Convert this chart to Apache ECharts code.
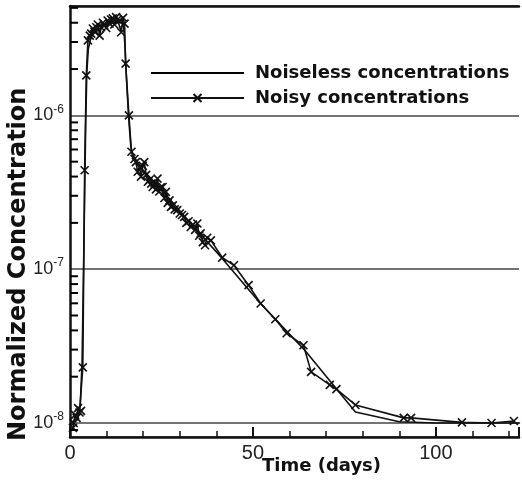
<!DOCTYPE html>
<html>
<head>
<meta charset="utf-8">
<script src="https://cdn.jsdelivr.net/npm/echarts@6/dist/echarts.min.js"></script>
<style>html,body{margin:0;padding:0;background:#fff}#c{width:522px;height:487px}</style>
</head>
<body>
<div id="c"></div>
<script>
// ---- data ----
const noiselessTimes = [0, 1, 2, 2.8, 3.3, 3.7, 4.0, 4.3, 4.6, 5.0, 5.5, 6, 7, 8, 9, 10, 11, 12, 13, 14, 14.6, 15.0, 15.4, 15.8, 16.2, 16.6, 17, 20, 25, 30, 35, 41, 52, 64, 78, 90, 100, 123];
const noiselessValues = [1.0e-8, 1.0e-8, 1.05e-8, 1.3e-8, 2.5e-8, 1e-7, 3e-7, 9e-7, 1.9e-6, 2.7e-6, 3.05e-6, 3.3e-6, 3.5e-6, 3.65e-6, 3.78e-6, 3.88e-6, 3.95e-6, 4.0e-6, 4.02e-6, 4.0e-6, 3.9e-6, 2.9e-6, 1.8e-6, 1.2e-6, 8.5e-7, 6.4e-7, 5.6e-7, 4.4e-7, 3.3e-7, 2.4e-7, 1.75e-7, 1.22e-7, 6.0e-8, 3.0e-8, 1.18e-8, 1.02e-8, 1.0e-8, 1.0e-8];

const noisyTimes = [0.8, 1.0, 1.4, 1.8, 2.2, 2.6, 3.0, 3.5, 4.0, 4.45, 4.9, 5.4, 5.8, 6.25, 6.7, 7.2, 7.6, 8.1, 8.5, 9.0, 9.4, 9.9, 10.3, 10.8, 11.2, 11.7, 12.1, 12.6, 13.0, 13.5, 14.0, 14.5, 14.9, 15.2, 16.1, 16.8,
  17.6, 18.0, 18.5, 19.0, 19.4, 19.9, 20.3, 20.8, 21.3, 21.7, 22.2, 22.6, 23.1, 23.5, 23.9, 24.4, 24.8, 25.3, 25.8, 26.2, 26.7, 27.2, 27.6, 28.1, 28.6, 29.3, 30.0, 30.6, 31.2, 31.8, 32.4, 33.0, 33.6, 34.2, 34.8, 35.3, 35.7, 36.3, 36.9, 37.5, 38.5,
  41.6, 44.8, 48.8, 52.1, 56.1, 59.2, 63.8, 65.9, 71.0, 72.8, 78.0, 91.2, 93.2, 107.1, 115.2, 121.3];
const noisyValues = [9.3e-9, 1.0e-8, 1.13e-8, 1.08e-8, 1.25e-8, 1.17e-8, 1.2e-8, 2.3e-8, 4.4e-7, 1.82e-6, 3.07e-6, 3.3e-6, 3.4e-6, 3.67e-6, 3.5e-6, 3.74e-6, 3.9e-6, 3.3e-6, 3.74e-6, 4.0e-6, 3.84e-6, 3.7e-6, 4.14e-6, 3.95e-6, 4.2e-6, 4.27e-6, 3.9e-6, 4.35e-6, 4.2e-6, 4.14e-6, 3.47e-6, 4.3e-6, 3.95e-6, 2.17e-6, 1.0e-6, 5.8e-7,
  5.2e-7, 4.97e-7, 4.3e-7, 4.6e-7, 4.0e-7, 4.7e-7, 4.97e-7, 4.1e-7, 3.7e-7, 3.8e-7, 3.6e-7, 3.42e-7, 3.6e-7, 3.3e-7, 3.88e-7, 3.2e-7, 3.4e-7, 3.42e-7, 2.9e-7, 3.18e-7, 2.7e-7, 2.8e-7, 2.54e-7, 2.6e-7, 2.45e-7, 2.42e-7, 2.3e-7, 2.25e-7, 2.19e-7, 2.0e-7, 2.05e-7, 1.88e-7, 1.95e-7, 1.8e-7, 1.98e-7, 1.65e-7, 1.71e-7, 1.5e-7, 1.43e-7, 1.6e-7, 1.54e-7,
  1.19e-7, 1.06e-7, 7.87e-8, 5.98e-8, 4.73e-8, 3.83e-8, 3.2e-8, 2.15e-8, 1.77e-8, 1.66e-8, 1.31e-8, 1.08e-8, 1.08e-8, 1.01e-8, 1.0e-8, 1.03e-8];

const xTickLabels = ['0', '50', '100'];
const seriesNames = ['Noiseless concentrations', 'Noisy concentrations'];
const xTitle = 'Time (days)';
const yTitle = 'Normalized Concentration';

// ---- chart ----
const zip = (a, b) => a.map((t, i) => [t, b[i]]);
const crossPath = 'path://M0,0L10,10M10,0L0,10';
const labelFont = 'Liberation Sans';
const boldFont = 'DejaVu Sans';
const yMin = 8.11e-9, yMax = 5.14e-6;
// log minor tick positions (m x 10^n) inside the axis range
const yMinorTicks = [];
for (let e = -9; e <= -6; e++) {
  for (let m = 2; m <= 9; m++) {
    const v = m * Math.pow(10, e);
    if (v > yMin && v < yMax) yMinorTicks.push(v);
  }
}

const chart = echarts.init(document.getElementById('c'), null, {renderer: 'canvas'});
chart.setOption({
  animation: false,
  backgroundColor: '#fff',
  grid: {left: 70, right: 0, top: 6, bottom: 50, containLabel: false},
  legend: {
    orient: 'vertical', left: 145, top: 59, itemWidth: 93, itemHeight: 10, itemGap: 7,
    textStyle: {fontFamily: boldFont, fontWeight: 'bold', fontSize: 18, color: '#111', padding: [0, 0, 0, 6]},
    data: [
      {name: seriesNames[0], icon: 'path://M0,0H100V2H0Z', itemStyle: {color: '#000', borderWidth: 0, opacity: 1}},
      {name: seriesNames[1]}
    ]
  },
  xAxis: [{
    type: 'value', min: 0, max: 122.7, interval: 50,
    axisLine: {show: true, onZero: false, lineStyle: {color: '#111', width: 2.5}},
    axisTick: {show: true, inside: true, length: 10, lineStyle: {color: '#111', width: 2}},
    minorTick: {show: true, splitNumber: 5, length: 6, lineStyle: {color: '#111', width: 1.5}},
    axisLabel: {margin: 6, fontFamily: labelFont, fontSize: 20, color: '#222',
      formatter: v => { const i = [0, 50, 100].indexOf(v); return i >= 0 ? xTickLabels[i] : ''; }},
    splitLine: {show: false}
  }, {
    type: 'value', position: 'top', min: 0, max: 122.7,
    axisLine: {show: true, onZero: false, lineStyle: {color: '#111', width: 2.5}},
    axisTick: {show: false}, axisLabel: {show: false}, splitLine: {show: false}
  }],
  yAxis: {
    type: 'log', logBase: 10, min: yMin, max: yMax,
    axisLine: {show: true, onZero: false, lineStyle: {color: '#111', width: 2.5}},
    axisTick: {show: false},
    splitLine: {show: true, lineStyle: {color: '#444', width: 1.5}},
    axisLabel: {
      margin: 6,
      formatter: v => {
        const l = Math.log10(v); const e = Math.round(l);
        if (Math.abs(l - e) > 1e-6) return '';
        return '{b|10}{s|' + e + '}';
      },
      rich: {
        b: {fontFamily: labelFont, fontSize: 18, color: '#222'},
        s: {fontFamily: labelFont, fontSize: 12, color: '#222', padding: [0, 0, 12, 0]}
      }
    }
  },
  graphic: [
    {type: 'text', left: 262, top: 457, style: {text: xTitle, font: 'bold 18px "DejaVu Sans"', fill: '#111'}},
    {type: 'text', x: 7, y: 441, rotation: Math.PI / 2, style: {text: yTitle, font: 'bold 24px "DejaVu Sans"', fill: '#111'}}
  ],
  series: [{
    name: seriesNames[0], type: 'line', data: zip(noiselessTimes, noiselessValues),
    symbol: 'none', lineStyle: {color: '#111', width: 1.6}, itemStyle: {color: '#111'}
  }, {
    name: seriesNames[1], type: 'line', data: zip(noisyTimes, noisyValues),
    symbol: crossPath, symbolSize: 8, showSymbol: true,
    lineStyle: {color: '#111', width: 1.6},
    itemStyle: {color: '#111', borderColor: '#111', borderWidth: 1.6}
  }, {
    // minor tick marks of the log axis, placed through the axis scale
    name: 'yMinorTicks', type: 'custom', silent: true, clip: false, z: 10,
    encode: {x: 0, y: 1},
    data: yMinorTicks.map(v => [0, v]),
    renderItem: (params, api) => {
      const p = api.coord([api.value(0), api.value(1)]);
      return {type: 'line', shape: {x1: p[0], y1: p[1], x2: p[0] + 8, y2: p[1]}, style: {stroke: '#000', lineWidth: 2}};
    }
  }]
});
</script>
</body>
</html>
